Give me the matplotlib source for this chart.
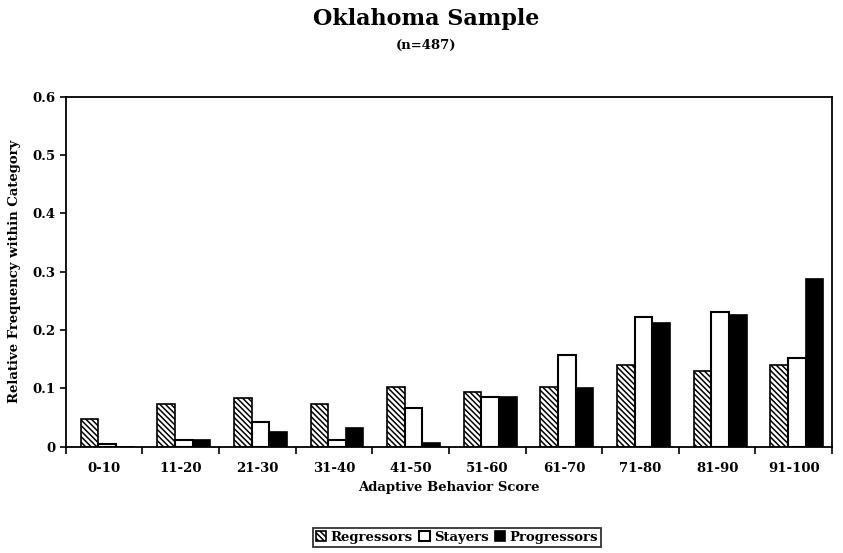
import matplotlib
matplotlib.use("Agg")
import matplotlib.pyplot as plt
import numpy as np

categories = ["0-10", "11-20", "21-30", "31-40", "41-50", "51-60", "61-70", "71-80", "81-90", "91-100"]
regressors = [0.047, 0.074, 0.083, 0.074, 0.102, 0.094, 0.102, 0.140, 0.130, 0.140]
stayers = [0.005, 0.012, 0.042, 0.012, 0.067, 0.085, 0.157, 0.223, 0.231, 0.153]
progressors = [0.0, 0.012, 0.026, 0.032, 0.006, 0.086, 0.100, 0.212, 0.226, 0.287]
yticks = [0, 0.1, 0.2, 0.3, 0.4, 0.5, 0.6]
ytick_labels = ["0", "0.1", "0.2", "0.3", "0.4", "0.5", "0.6"]

plt.rcParams['font.family'] = ['DejaVu Serif']
plt.rcParams['hatch.linewidth'] = 1.1

fig = plt.figure(figsize=(8.43, 5.53), dpi=100)
ax = fig.add_axes([0.078, 0.192, 0.909, 0.633])

x = np.arange(len(categories))
w = 0.23
off = 0.04
ax.bar(x - w + off, regressors, w, facecolor='white', edgecolor='black', hatch='\\\\\\\\\\\\', linewidth=1.2, label='Regressors')
ax.bar(x + off, stayers, w, facecolor='white', edgecolor='black', linewidth=1.5, label='Stayers')
ax.bar(x + w + off, progressors, w, facecolor='black', edgecolor='black', linewidth=1.2, label='Progressors')

ax.set_xlim(-0.5, len(categories) - 0.5)
ax.set_ylim(0, 0.6)
ax.set_yticks(yticks)
ax.set_yticklabels(ytick_labels, fontsize=9.5, fontweight='bold')
ax.set_xticks(x)
ax.set_xticklabels(categories, fontsize=9.5, fontweight='bold')
ax.tick_params(axis='x', length=0, pad=11)
ax.set_xticks(np.arange(len(categories) + 1) - 0.5, minor=True)
ax.tick_params(axis='x', which='minor', length=5, width=1.2, direction='out')
ax.tick_params(axis='y', length=4, width=1.2, direction='out')
for s in ax.spines.values():
    s.set_linewidth(1.3)

ax.set_xlabel("Adaptive Behavior Score", fontsize=9.5, fontweight='bold', labelpad=4)
ax.set_ylabel("Relative Frequency within Category", fontsize=9.5, fontweight='bold', labelpad=8)

fig.text(0.505, 0.965, "Oklahoma Sample", ha='center', va='center', fontsize=16, fontweight='bold')
fig.text(0.505, 0.918, "(n=487)", ha='center', va='center', fontsize=9.5, fontweight='bold')

leg = fig.legend(loc='center', bbox_to_anchor=(0.542, 0.028), ncol=3,
                 prop={'weight': 'bold', 'size': 9.5}, frameon=True, fancybox=False,
                 handlelength=0.8, handleheight=0.8, handletextpad=0.3, columnspacing=0.5,
                 borderpad=0.25, edgecolor='black')
leg.get_frame().set_linewidth(1.3)

fig.savefig("out.png", dpi=100)
